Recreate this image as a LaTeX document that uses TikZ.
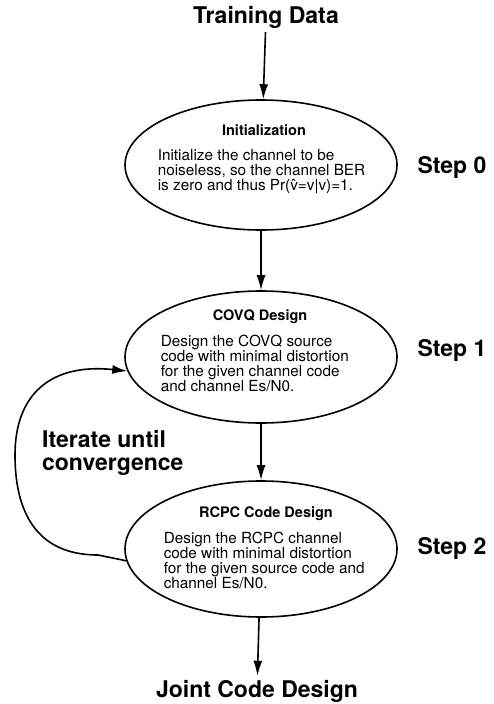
\documentclass[tikz,border=0pt]{standalone}
\usepackage{fontspec}
\setmainfont{TeX Gyre Heros}
\usetikzlibrary{shapes.geometric,arrows.meta}

\begin{document}
\begin{tikzpicture}[x=1pt,y=-1pt,->,>={Latex[length=15pt,width=9pt]},line width=1.6pt]
		\tikzstyle{big}   = [font=\fontsize{23}{23}\selectfont\bfseries]
		\tikzstyle{stage} = [ellipse,draw,minimum width=272pt,minimum height=130pt,inner sep=0pt]
		\tikzstyle{title} = [font=\fontsize{14.5}{16}\selectfont\bfseries]
		\tikzstyle{body}  = [align=left,anchor=west,font=\fontsize{15.3}{15}\selectfont,inner sep=0pt]
		
		\useasboundingbox (0,0) rectangle (494,704);
		
		\node[big] (data) at (266,17) {Training Data};
		
		% step 0
		\node[stage] (init) at (261,165) {};
		\node[title] (initttl) at (264,130) {Initialization};
		\node[body]  (inittxt) at (157,172) {Initialize the channel to be\\noiseless, so the channel BER\\is zero and thus Pr(\^{v}=v|v)=1.};
		\node[big]   (step0) at (452,167) {Step 0};
		
		% step 1
		\node[stage,minimum height=132pt] (covq) at (261,357) {};
		\node[title] (covqttl) at (260,317) {COVQ Design};
		\node[body]  (covqtxt) at (160,363) {Design the COVQ source\\code with minimal distortion\\for the given channel code\\and channel Es/N0.};
		\node[big]   (step1) at (452,350) {Step 1};
		
		% step 2
		\node[stage,minimum height=136pt] (rcpc) at (261,549) {};
		\node[title] (rcpcttl) at (266,514) {RCPC Code Design};
		\node[body]  (rcpctxt) at (163,560) {Design the RCPC channel\\code with minimal distortion\\for the given source code and\\channel Es/N0.};
		\node[big]   (step2) at (452,548) {Step 2};
		
		\node[big] (joint) at (257,691) {Joint Code Design};
		
		\node[big,align=left,anchor=west] (iter) at (38,453) {Iterate until\\convergence};
		
		\path (data) edge (init);
		\path (init) edge (covq);
		\path (covq) edge (rcpc);
		\path (rcpc) edge (joint);
		
		% feedback loop back to the COVQ stage
		\draw (rcpc.185) -- (98,555) .. controls (35,555) and (15,510) .. (15,455)
			.. controls (15,395) and (50,363) .. (covq.186);
	\end{tikzpicture}
\end{document}
